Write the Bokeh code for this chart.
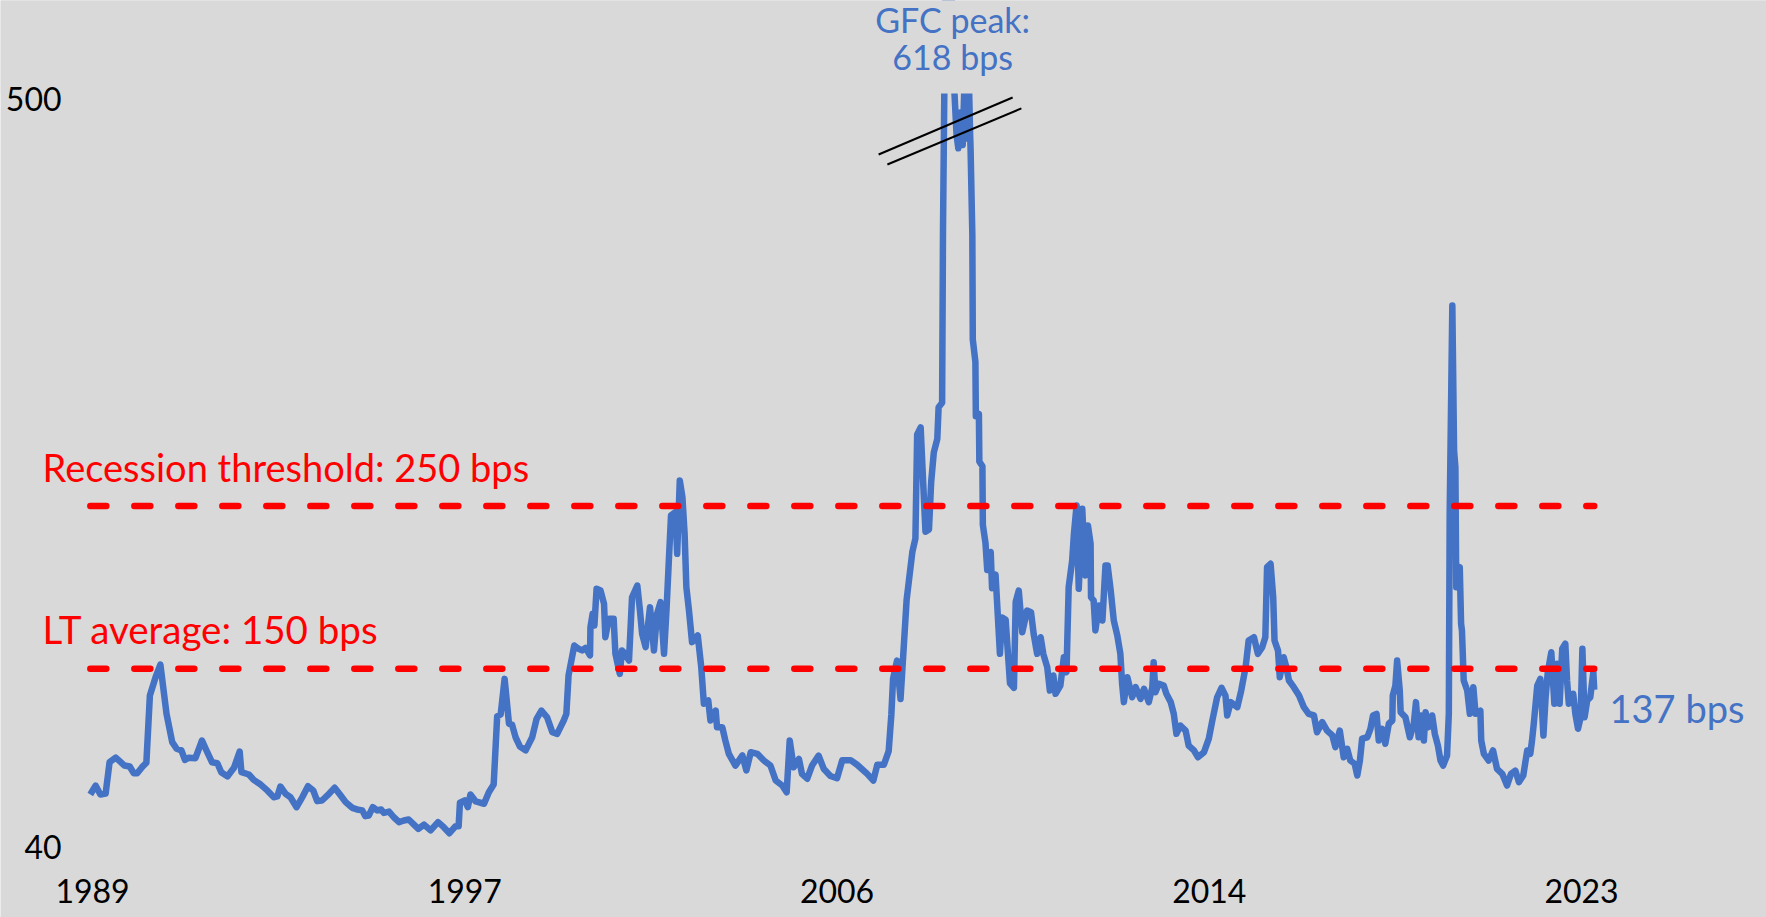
from bokeh.plotting import figure
from bokeh.models import Range1d, FixedTicker, Label, CustomJSTickFormatter
from bokeh.embed import file_html
from bokeh.resources import INLINE

# ---- data (decimal year, spread in bps) ----
dates = [
    1988.95, 1989.07, 1989.18, 1989.30, 1989.39, 1989.53, 1989.62, 1989.73, 1989.85, 1989.94,
    1990.02, 1990.13, 1990.23, 1990.31, 1990.44, 1990.55, 1990.69, 1990.82, 1990.92, 1991.03,
    1991.11, 1991.20, 1991.35, 1991.50, 1991.62, 1991.73, 1991.85, 1991.94, 1992.08, 1992.23,
    1992.36, 1992.40, 1992.57, 1992.68, 1992.84, 1992.99, 1993.14, 1993.22, 1993.29, 1993.41,
    1993.52, 1993.66, 1993.79, 1993.92, 1994.04, 1994.13, 1994.24, 1994.40, 1994.53, 1994.65,
    1994.78, 1994.93, 1995.04, 1995.16, 1995.23, 1995.31, 1995.40, 1995.50, 1995.59, 1995.65,
    1995.77, 1995.88, 1996.00, 1996.11, 1996.22, 1996.34, 1996.44, 1996.57, 1996.72, 1996.89,
    1997.02, 1997.15, 1997.29, 1997.36, 1997.39, 1997.50, 1997.57, 1997.63, 1997.75, 1997.94,
    1998.05, 1998.16, 1998.24, 1998.32, 1998.41, 1998.51, 1998.58, 1998.66, 1998.76, 1998.89,
    1999.04, 1999.14, 1999.25, 1999.38, 1999.50, 1999.61, 1999.76, 1999.82, 1999.87, 2000.00,
    2000.10, 2000.18, 2000.26, 2000.36, 2000.37, 2000.42, 2000.46, 2000.51, 2000.60, 2000.68,
    2000.71, 2000.79, 2000.90, 2000.94, 2001.04, 2001.09, 2001.13, 2001.25, 2001.32, 2001.44,
    2001.50, 2001.55, 2001.63, 2001.73, 2001.82, 2001.89, 2001.97, 2002.05, 2002.11, 2002.16,
    2002.21, 2002.31, 2002.35, 2002.41, 2002.47, 2002.52, 2002.56, 2002.62, 2002.69, 2002.82,
    2002.90, 2002.96, 2003.06, 2003.11, 2003.23, 2003.26, 2003.38, 2003.45, 2003.53, 2003.68,
    2003.84, 2003.93, 2004.03, 2004.18, 2004.33, 2004.48, 2004.60, 2004.75, 2004.85, 2004.92,
    2005.01, 2005.13, 2005.20, 2005.32, 2005.43, 2005.58, 2005.70, 2005.85, 2006.00, 2006.12,
    2006.31, 2006.46, 2006.69, 2006.83, 2006.92, 2007.07, 2007.18, 2007.24, 2007.28, 2007.37,
    2007.45, 2007.53, 2007.59, 2007.64, 2007.72, 2007.79, 2007.83, 2007.91, 2007.95, 2008.02,
    2008.10, 2008.15, 2008.21, 2008.29, 2008.32, 2008.40, 2008.42, 2008.47, 2008.52, 2008.61,
    2008.68, 2008.73, 2008.77, 2008.82, 2008.87, 2008.91, 2008.96, 2009.00, 2009.04, 2009.05,
    2009.09, 2009.10, 2009.16, 2009.17, 2009.24, 2009.25, 2009.32, 2009.33, 2009.39, 2009.43,
    2009.51, 2009.54, 2009.62, 2009.66, 2009.72, 2009.77, 2009.85, 2009.95, 2010.04, 2010.08,
    2010.15, 2010.23, 2010.34, 2010.43, 2010.49, 2010.57, 2010.65, 2010.71, 2010.80, 2010.86,
    2010.94, 2010.99, 2011.10, 2011.18, 2011.24, 2011.29, 2011.37, 2011.41, 2011.47, 2011.52,
    2011.60, 2011.67, 2011.73, 2011.79, 2011.80, 2011.86, 2011.90, 2011.98, 2012.06, 2012.13,
    2012.18, 2012.25, 2012.32, 2012.40, 2012.47, 2012.51, 2012.55, 2012.63, 2012.74, 2012.82,
    2012.93, 2013.01, 2013.12, 2013.20, 2013.23, 2013.27, 2013.35, 2013.46, 2013.52, 2013.62,
    2013.69, 2013.75, 2013.84, 2013.96, 2014.03, 2014.15, 2014.24, 2014.38, 2014.49, 2014.57,
    2014.68, 2014.78, 2014.87, 2014.91, 2014.99, 2015.14, 2015.23, 2015.33, 2015.40, 2015.52,
    2015.61, 2015.71, 2015.78, 2015.82, 2015.90, 2015.96, 2015.99, 2016.07, 2016.11, 2016.20,
    2016.26, 2016.32, 2016.43, 2016.55, 2016.66, 2016.77, 2016.89, 2016.96, 2017.08, 2017.19,
    2017.31, 2017.38, 2017.48, 2017.57, 2017.65, 2017.72, 2017.82, 2017.88, 2017.94, 2017.99,
    2018.11, 2018.18, 2018.24, 2018.32, 2018.37, 2018.45, 2018.52, 2018.60, 2018.68, 2018.69,
    2018.75, 2018.79, 2018.85, 2018.87, 2018.98, 2019.08, 2019.17, 2019.22, 2019.28, 2019.34,
    2019.40, 2019.44, 2019.51, 2019.59, 2019.65, 2019.72, 2019.78, 2019.84, 2019.93, 2019.97,
    2019.99, 2020.05, 2020.09, 2020.12, 2020.14, 2020.22, 2020.25, 2020.27, 2020.31, 2020.39,
    2020.45, 2020.53, 2020.58, 2020.69, 2020.71, 2020.77, 2020.88, 2020.98, 2021.07, 2021.19,
    2021.30, 2021.39, 2021.49, 2021.57, 2021.67, 2021.76, 2021.83, 2021.87, 2021.91, 2021.99,
    2022.06, 2022.13, 2022.18, 2022.23, 2022.31, 2022.38, 2022.44, 2022.50, 2022.56, 2022.63,
    2022.67, 2022.71, 2022.81, 2022.86, 2022.92, 2022.98, 2023.02, 2023.07, 2023.13, 2023.20,
    2023.27, 2023.29,
]

spread_bps = [
    72.6, 78.1, 72.6, 73.2, 92.5, 95.3, 93.1, 90.4, 89.8, 85.7,
    85.7, 89.4, 92.1, 133.5, 144.7, 152.5, 122.2, 104.8, 100.7, 99.7,
    93.9, 95.2, 94.9, 105.8, 98.6, 92.4, 91.8, 86.3, 83.7, 89.0,
    99.0, 86.3, 84.9, 81.6, 78.7, 75.1, 70.9, 71.4, 77.5, 73.0,
    70.9, 64.8, 70.9, 77.7, 75.1, 68.5, 68.9, 73.0, 76.7, 72.6,
    67.9, 64.4, 63.4, 62.8, 59.3, 59.7, 64.8, 62.8, 63.4, 61.3,
    62.1, 58.6, 55.6, 56.6, 57.2, 54.1, 51.5, 54.1, 50.5, 55.6,
    52.5, 48.8, 53.1, 53.1, 67.5, 68.9, 64.8, 72.6, 68.3, 66.9,
    74.0, 78.7, 120.6, 121.8, 143.7, 116.1, 115.6, 107.8, 102.1, 99.7,
    107.8, 119.1, 124.2, 120.1, 110.9, 109.9, 118.1, 122.2, 145.8, 164.2,
    162.2, 161.2, 162.8, 158.1, 175.5, 183.7, 176.5, 199.1, 198.0, 189.9,
    169.3, 180.6, 180.6, 159.1, 146.8, 161.2, 160.1, 155.0, 193.9, 201.1,
    185.8, 171.4, 163.2, 187.8, 161.2, 183.7, 190.9, 159.1, 187.8, 216.5,
    244.2, 246.2, 220.6, 265.7, 255.4, 232.9, 200.1, 185.7, 166.3, 170.4,
    150.9, 128.4, 130.4, 118.1, 124.2, 114.0, 114.0, 105.8, 97.6, 90.4,
    96.6, 87.4, 98.6, 97.6, 93.5, 90.4, 81.2, 78.1, 74.0, 105.8,
    89.4, 94.5, 85.3, 82.3, 90.4, 96.5, 88.2, 84.0, 82.6, 93.7,
    93.7, 90.9, 85.3, 81.2, 90.9, 90.9, 99.3, 121.5, 143.8, 154.9,
    131.3, 166.1, 192.5, 203.6, 221.7, 230.0, 294.0, 298.3, 274.5, 234.2,
    235.6, 264.8, 282.9, 291.3, 310.8, 313.5, 419.3, 560.0, 618.0, 570.0,
    505.0, 478.0, 470.0, 492.0, 472.0, 510.0, 476.0, 525.0, 478.0, 469.4,
    416.5, 352.5, 338.6, 305.2, 306.6, 277.4, 274.5, 238.4, 227.3, 210.6,
    221.7, 199.5, 207.8, 188.3, 159.1, 181.4, 180.0, 141.0, 138.2, 191.1,
    198.0, 172.4, 185.7, 184.7, 171.4, 159.1, 169.3, 159.1, 150.9, 136.5,
    145.8, 134.5, 139.6, 157.0, 147.8, 200.1, 216.5, 232.9, 250.3, 199.1,
    248.3, 207.3, 238.0, 226.8, 193.9, 191.9, 173.5, 188.8, 179.6, 213.4,
    213.4, 198.0, 179.6, 170.4, 159.1, 140.7, 129.4, 144.7, 132.4, 138.6,
    131.4, 137.6, 129.4, 138.6, 153.9, 135.5, 140.7, 139.6, 134.5, 129.4,
    122.2, 109.9, 115.0, 111.9, 102.7, 99.7, 95.5, 98.6, 106.9, 118.1,
    132.4, 138.2, 133.4, 121.2, 129.4, 126.3, 136.6, 150.9, 167.3, 169.3,
    159.1, 163.2, 169.3, 212.4, 214.5, 193.9, 167.3, 161.1, 144.7, 157.0,
    150.9, 142.7, 138.6, 133.5, 126.3, 122.2, 121.2, 110.9, 117.1, 111.9,
    108.9, 101.7, 111.9, 95.5, 100.7, 93.5, 91.5, 84.3, 93.5, 106.9,
    107.8, 113.0, 121.2, 122.2, 105.8, 113.0, 103.8, 116.1, 118.1, 133.5,
    139.6, 155.0, 136.5, 123.2, 120.1, 107.8, 116.1, 129.4, 107.8, 121.2,
    105.8, 123.2, 114.0, 121.2, 109.9, 102.7, 93.5, 90.4, 96.6, 122.2,
    245.2, 373.3, 284.1, 273.9, 200.1, 212.4, 177.6, 173.4, 142.7, 136.6,
    122.2, 138.6, 122.2, 124.2, 105.8, 97.6, 93.5, 99.7, 88.4, 85.3,
    78.1, 85.3, 87.3, 80.2, 84.3, 99.7, 97.6, 105.8, 116.1, 139.6,
    143.7, 108.9, 132.4, 147.8, 160.1, 128.4, 153.0, 128.4, 162.2, 165.3,
    142.7, 128.4, 134.5, 122.2, 113.0, 120.1, 162.2, 120.1, 130.4, 132.4,
    147.8, 137.0,
]

threshold_bps = 250
lt_average_bps = 150
gfc_peak_bps = 618
last_bps = 137

x_tick_pos = [1989.0, 1997.5, 2006.0, 2014.5, 2023.0]
x_tick_labels = ["1989", "1997", "2006", "2014", "2023"]
y_ticks = [40, 500]

# visible window and the original plot-area limits (data units)
x_lo, x_hi = 1986.899, 2027.224
y_lo, y_hi = -3.05, 560.88
area_left = 1988.726
area_top = 503.7

# axis-break marks drawn across the clipped GFC spike
break_x0 = [2006.95, 2007.15]
break_y0 = [466.2, 460.0]
break_x1 = [2010.01, 2010.21]
break_y1 = [501.2, 494.5]

BLUE = "#4472C4"
RED = "#FF0000"
BG = "#D9D9D9"
FONT = "Lato"

p = figure(width=1766, height=917, output_backend="svg", toolbar_location=None,
           x_range=Range1d(x_lo, x_hi), y_range=Range1d(y_lo, y_hi),
           min_border_left=0, min_border_right=0, min_border_top=0,
           min_border_bottom=0)
p.background_fill_color = BG
p.border_fill_color = BG
p.outline_line_color = None
p.grid.visible = False

p.xaxis.ticker = FixedTicker(ticks=x_tick_pos)
p.xaxis.formatter = CustomJSTickFormatter(
    args=dict(pos=x_tick_pos, labels=x_tick_labels),
    code="""
let best = 0;
for (let i = 0; i < pos.length; i++) {
  if (Math.abs(pos[i] - tick) < Math.abs(pos[best] - tick)) best = i;
}
return labels[best];
""")
p.yaxis.ticker = FixedTicker(ticks=y_ticks)
p.xaxis.fixed_location = y_ticks[0]
p.yaxis.fixed_location = area_left

for ax in (p.xaxis, p.yaxis):
    ax.axis_line_color = None
    ax.major_tick_line_color = None
    ax.minor_tick_line_color = None
    ax.major_tick_out = 0
    ax.major_tick_in = 0
    ax.minor_tick_out = 0
    ax.major_label_text_font = FONT
    ax.major_label_text_font_size = "32px"
    ax.major_label_text_color = "#000000"
p.xaxis.major_label_standoff = 32
p.yaxis.major_label_standoff = 19

p.line(dates, spread_bps, line_color=BLUE, line_width=6.5, line_join="round")

# mask: the original plot area clips the series at its top edge
p.quad(left=[x_lo], right=[x_hi], bottom=[area_top], top=[900],
       fill_color=BG, line_color=None)

for lvl in (threshold_bps, lt_average_bps):
    p.line([dates[0], dates[-1]], [lvl, lvl], line_color=RED, line_width=6.5,
           line_dash="16 28", line_cap="round")

p.segment(break_x0, break_y0, break_x1, break_y1, line_color="#000000", line_width=2)

p.add_layout(Label(x=1987.86, y=273.8, text=f"Recession threshold: {threshold_bps} bps",
                   text_font=FONT, text_font_size="38px", text_color=RED,
                   text_baseline="alphabetic", text_align="left"))
p.add_layout(Label(x=1987.86, y=174.6, text=f"LT average: {lt_average_bps} bps",
                   text_font=FONT, text_font_size="38.5px", text_color=RED,
                   text_baseline="alphabetic", text_align="left"))
p.add_layout(Label(x=2008.64, y=549.2, text="GFC peak:",
                   text_font=FONT, text_font_size="34px", text_color=BLUE,
                   text_baseline="alphabetic", text_align="center"))
p.add_layout(Label(x=2008.64, y=526.7, text=f"{gfc_peak_bps} bps",
                   text_font=FONT, text_font_size="34px", text_color=BLUE,
                   text_baseline="alphabetic", text_align="center"))
p.add_layout(Label(x=2023.64, y=125.5, text=f"{last_bps} bps",
                   text_font=FONT, text_font_size="38px", text_color=BLUE,
                   text_baseline="alphabetic", text_align="left"))

open("out.html", "w").write(file_html(p, INLINE))
